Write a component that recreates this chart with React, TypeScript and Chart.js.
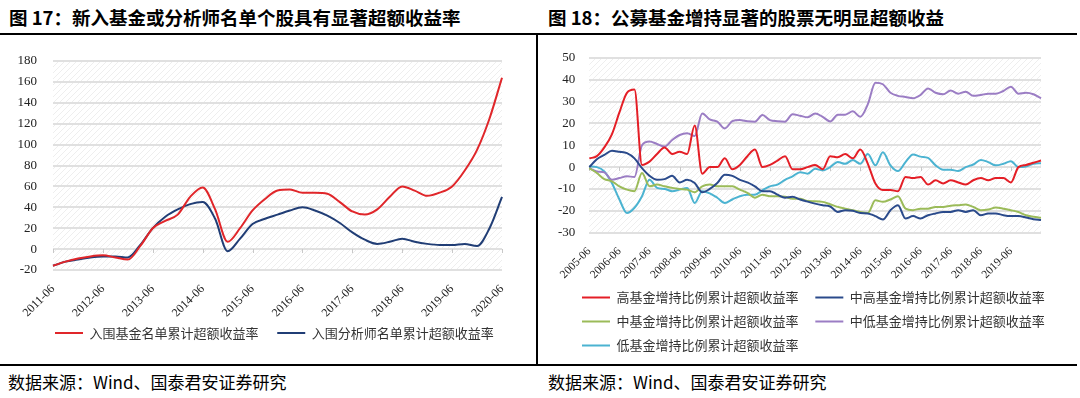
import React, { useEffect, useRef } from 'react';
import { Chart, registerables } from 'chart.js';

Chart.register(...registerables);

function quarterLabels(fromYear: number, toYear: number): string[] {
  const out: string[] = [];
  for (let y = fromYear; y <= toYear; y++) {
    for (const m of ['03', '06', '09', '12']) {
      const s = `${y}-${m}`;
      if (s >= `${fromYear}-06` && s <= `${toYear}-06`) out.push(s);
    }
  }
  return out;
}

// ---------- Figure 17 ----------
const leftDates = quarterLabels(2011, 2020);
const leftTickLabels = ['2011-06', '2012-06', '2013-06', '2014-06', '2015-06', '2016-06', '2017-06', '2018-06', '2019-06', '2020-06'];
const fundListExcess = [-16, -12, -9, -7, -6, -8, -10, 3, 20, 27, 33, 50, 59, 38, 7, 20, 37, 48, 56, 57, 54, 54, 53, 45, 36, 33, 38, 50, 60, 56, 51, 54, 60, 75, 95, 125, 164];
const analystListExcess = [-16, -12, -10, -8, -7, -7, -8, 4, 20, 31, 38, 43, 45, 29, -2, 10, 24, 29, 33, 37, 40, 37, 32, 25, 16, 9, 5, 7, 10, 7, 5, 4, 4, 5, 3, 20, 50];
const leftSeriesNames = ['入围基金名单累计超额收益率', '入围分析师名单累计超额收益率'];

// ---------- Figure 18 ----------
const rightDates = quarterLabels(2005, 2020);
const rightTickLabels = ['2005-06', '2006-06', '2007-06', '2008-06', '2009-06', '2010-06', '2011-06', '2012-06', '2013-06', '2014-06', '2015-06', '2016-06', '2017-06', '2018-06', '2019-06'];
const highIncrease = [4, 5, 9, 15, 25, 34, 35.5, 1, 2.5, 6, 9, 6, 7, 6, 19, -3, 0, 0, 4, -1, 1, 5, 8, 0, 1, 3, 5, -1, -1, 0, 1, -1, 5, 4.5, 6, 4, 8, 1.5, -7.5, -10.5, -10.5, -11, -4.5, -5, -4.5, -8, -6, -7.5, -6, -7, -8, -6, -5, -6, -5, -5, -7, 0, 1, 2, 3];
const midHighIncrease = [0, 3.6, 5.6, 7.5, 7, 6.4, 4, -0.5, -4, -5.8, -5.5, -4, -7, -5.8, -7.3, -11.5, -10, -7.3, -3.5, -4, -5.8, -7, -8.8, -11, -11, -12.6, -14, -13.6, -14.8, -15.8, -16.7, -17.4, -18, -20.5, -19.7, -20, -21, -21.2, -22.4, -24, -19.7, -17.4, -23.5, -22.4, -23.5, -22, -21.2, -20.5, -20.5, -19.7, -20.5, -19.7, -22, -21.2, -21.2, -22, -22.4, -22.4, -23, -23.8, -24.2];
const midIncrease = [-0.5, -2.7, -5.5, -6.5, -8.8, -10.3, -11, -2.7, -8.8, -8, -8.8, -9.5, -10, -10.3, -11.5, -8.8, -8, -8.8, -8.8, -8.8, -10.3, -11.8, -14, -12.6, -13.3, -13.3, -13.6, -14.5, -14.5, -15.5, -15.6, -15.9, -17, -18.2, -19, -19.7, -20.5, -21, -15.2, -15.9, -14.8, -13.3, -19, -19.7, -19, -19, -18.2, -18.2, -17.7, -17.4, -17.1, -18.2, -19.7, -19.4, -18.5, -19, -19.7, -20.5, -22, -22.7, -23.2];
const midLowIncrease = [-0.5, -2, -2.4, -5.8, -5, -4.2, -4.5, 10, 11.7, 10.6, 9.4, 12.4, 14.7, 15.5, 14.2, 24.5, 21.8, 20.8, 17.7, 21, 21.5, 21, 20.8, 23.8, 21.5, 21, 20.8, 24.2, 23.5, 22.8, 24.5, 23, 20.9, 24, 24, 25.5, 23, 28.8, 38.6, 37.9, 34, 32.6, 32.1, 31.5, 33, 36, 34, 33.3, 35, 33.6, 34.5, 32.6, 33, 33.6, 33.6, 34.8, 36.8, 33.6, 34, 33.3, 31.5];
const lowIncrease = [0.3, 0, -2, -7.3, -14.8, -21, -18.6, -13.3, -5.8, -9.5, -10, -11, -10.3, -9.5, -16.4, -11, -12, -14, -16.4, -14.8, -13.3, -12.6, -12.6, -10.6, -8.8, -8, -5.8, -4.2, -2.3, -3, -0.8, -1.5, 0, 2.3, 1.5, 3.3, 1.5, 6, 0.8, 6.8, 0.8, -1.8, 2.3, 5.8, 4.8, 4.2, 0.8, -1.2, -1.2, -1.8, 0, 1.2, 3.3, 2.3, 0.8, 1.5, 2.7, 0, 0.3, 1.5, 1.8];
const rightSeriesNames = ['高基金增持比例累计超额收益率', '中高基金增持比例累计超额收益率', '中基金增持比例累计超额收益率', '中低基金增持比例累计超额收益率', '低基金增持比例累计超额收益率'];

const SERIF = "'Liberation Serif', 'Times New Roman', serif";
const CJK = "'Noto Sans CJK SC', 'Noto Sans', sans-serif";
const GRID = '#e0e0e0';

const hatchPlugin = {
  id: 'hatchBg',
  beforeDraw(chart: any) {
    const { ctx, chartArea: a } = chart;
    const tile = document.createElement('canvas');
    tile.width = 6;
    tile.height = 6;
    const t = tile.getContext('2d')!;
    t.strokeStyle = '#eeeeee';
    t.lineWidth = 1;
    t.beginPath();
    t.moveTo(0, 6); t.lineTo(6, 0);
    t.moveTo(-3, 3); t.lineTo(3, -3);
    t.moveTo(3, 9); t.lineTo(9, 3);
    t.stroke();
    const pat = ctx.createPattern(tile, 'repeat');
    ctx.save();
    ctx.fillStyle = pat;
    ctx.fillRect(a.left, a.top, a.right - a.left, a.bottom - a.top);
    ctx.restore();
  },
};

function zeroTicks(dates: string[], shown: string[]) {
  return {
    id: 'zeroTicks',
    beforeDatasetsDraw(chart: any) {
      const { ctx } = chart;
      const xs = chart.scales.x;
      const y0 = Math.round(chart.scales.y.getPixelForValue(0));
      ctx.save();
      ctx.strokeStyle = '#c8c8c8';
      ctx.lineWidth = 1;
      ctx.beginPath();
      dates.forEach((d, i) => {
        if (shown.includes(d)) {
          const px = Math.round(xs.getPixelForValue(i)) + 0.5;
          ctx.moveTo(px, y0);
          ctx.lineTo(px, y0 + 4);
        }
      });
      ctx.stroke();
      ctx.restore();
    },
  };
}

// place the first legend symbol at a given x (legend rows are start-aligned)
function legendStart(x: number) {
  return {
    id: 'legendStart',
    afterLayout(chart: any) {
      const lg = chart.legend;
      if (!lg) return;
      const p = lg.options.labels.padding;
      const w = lg.right - lg.left;
      lg.left = x - p;
      lg.right = lg.left + w;
    },
  };
}

function legendLabels(suffix: string) {
  return (chart: any) =>
    Chart.defaults.plugins.legend.labels.generateLabels(chart).map((l: any) => ({
      ...l,
      text: l.text + suffix,
      lineWidth: 0,
    }));
}

function line(label: string, data: number[], color: string) {
  return {
    label,
    data,
    borderColor: color,
    backgroundColor: color,
    borderWidth: 2,
    pointRadius: 0,
    cubicInterpolationMode: 'monotone' as const,
  };
}

export default function App() {
  const leftRef = useRef<HTMLCanvasElement>(null);
  const rightRef = useRef<HTMLCanvasElement>(null);

  useEffect(() => {
    document.body.style.margin = '0';
    const left = new Chart(leftRef.current!, {
      type: 'line',
      data: {
        labels: leftDates,
        datasets: [
          line(leftSeriesNames[0], fundListExcess, '#E0262A'),
          line(leftSeriesNames[1], analystListExcess, '#203D75'),
        ],
      },
      options: {
        animation: false,
        responsive: false,
        maintainAspectRatio: false,
        layout: { padding: { left: 0, right: 34, top: 25, bottom: 12.5 } },
        plugins: {
          tooltip: { enabled: false },
          legend: {
            position: 'bottom',
            align: 'start',
            labels: {
              boxWidth: 28,
              boxHeight: 2,
              padding: 10,
              color: '#333',
              font: { family: CJK, size: 13 },
              generateLabels: legendLabels('   '),
            },
          },
        },
        scales: {
          x: {
            type: 'category',
            grid: { display: false },
            border: { display: false },
            ticks: {
              autoSkip: false,
              minRotation: 45,
              maxRotation: 45,
              padding: 4,
              color: '#222',
              font: { family: SERIF, size: 12 },
              callback: (_v: any, i: number) => (leftTickLabels.includes(leftDates[i]) ? leftDates[i] : null),
            },
            afterFit: (s: any) => { s.height = 46.5; },
          },
          y: {
            min: -20,
            max: 180,
            ticks: { stepSize: 20, padding: 16, color: '#222', font: { family: SERIF, size: 13 } },
            grid: { color: GRID, lineWidth: 2, drawTicks: false },
            border: { display: false },
            afterFit: (s: any) => { s.width = 53; },
          },
        },
      },
      plugins: [hatchPlugin, zeroTicks(leftDates, leftTickLabels), legendStart(55)],
    });

    const right = new Chart(rightRef.current!, {
      type: 'line',
      data: {
        labels: rightDates,
        datasets: [
          line(rightSeriesNames[0], highIncrease, '#E41E26'),
          line(rightSeriesNames[1], midHighIncrease, '#2A4A8B'),
          line(rightSeriesNames[2], midIncrease, '#9BBB59'),
          line(rightSeriesNames[3], midLowIncrease, '#9B7DC4'),
          line(rightSeriesNames[4], lowIncrease, '#4BB3D1'),
        ],
      },
      options: {
        animation: false,
        responsive: false,
        maintainAspectRatio: false,
        layout: { padding: { left: 0, right: 39, top: 21.3, bottom: 0 } },
        plugins: {
          tooltip: { enabled: false },
          legend: {
            position: 'bottom',
            align: 'start',
            labels: {
              boxWidth: 28,
              boxHeight: 2,
              padding: 11,
              color: '#333',
              font: { family: CJK, size: 13 },
              generateLabels: legendLabels('  '),
            },
          },
        },
        scales: {
          x: {
            type: 'category',
            grid: { display: false },
            border: { display: false },
            ticks: {
              autoSkip: false,
              minRotation: 45,
              maxRotation: 45,
              padding: 4,
              color: '#222',
              font: { family: SERIF, size: 11.5 },
              callback: (_v: any, i: number) => (rightTickLabels.includes(rightDates[i]) ? rightDates[i] : null),
            },
            afterFit: (s: any) => { s.height = 47.3; },
          },
          y: {
            min: -30,
            max: 50,
            ticks: { stepSize: 10, padding: 14, color: '#222', font: { family: SERIF, size: 13 } },
            grid: { color: GRID, lineWidth: 2, drawTicks: false },
            border: { display: false },
            afterFit: (s: any) => { s.width = 49.3; },
          },
        },
      },
      plugins: [hatchPlugin, zeroTicks(rightDates, rightTickLabels), legendStart(42)],
    });

    return () => {
      left.destroy();
      right.destroy();
    };
  }, []);

  const titleStyle: React.CSSProperties = {
    position: 'absolute',
    top: 7,
    font: `bold 18.5px ${CJK}`,
    lineHeight: '20px',
    color: '#000',
    whiteSpace: 'nowrap',
  };
  const footStyle: React.CSSProperties = {
    position: 'absolute',
    top: 372,
    font: `17px ${CJK}`,
    lineHeight: '20px',
    color: '#000',
    whiteSpace: 'nowrap',
  };

  return (
    <div style={{ position: 'absolute', left: 0, top: 0, width: 1080, height: 398, background: '#fff', overflow: 'hidden' }}>
      <div style={{ ...titleStyle, left: 9 }}>图 17：新入基金或分析师名单个股具有显著超额收益率</div>
      <div style={{ ...titleStyle, left: 548 }}>图 18：公募基金增持显著的股票无明显超额收益</div>
      <div style={{ position: 'absolute', left: 0, top: 33, width: 1077, height: 2, background: '#000' }} />
      <div style={{ position: 'absolute', left: 536, top: 33, width: 2, height: 333, background: '#000' }} />
      <div style={{ position: 'absolute', left: 0, top: 364, width: 1077, height: 2, background: '#000' }} />
      <canvas ref={leftRef} width={536} height={326} style={{ position: 'absolute', left: 0, top: 36, width: 536, height: 326 }} />
      <canvas ref={rightRef} width={540} height={326} style={{ position: 'absolute', left: 540, top: 36, width: 540, height: 326 }} />
      <div style={{ ...footStyle, left: 8 }}>数据来源：Wind、国泰君安证券研究</div>
      <div style={{ ...footStyle, left: 548 }}>数据来源：Wind、国泰君安证券研究</div>
    </div>
  );
}
